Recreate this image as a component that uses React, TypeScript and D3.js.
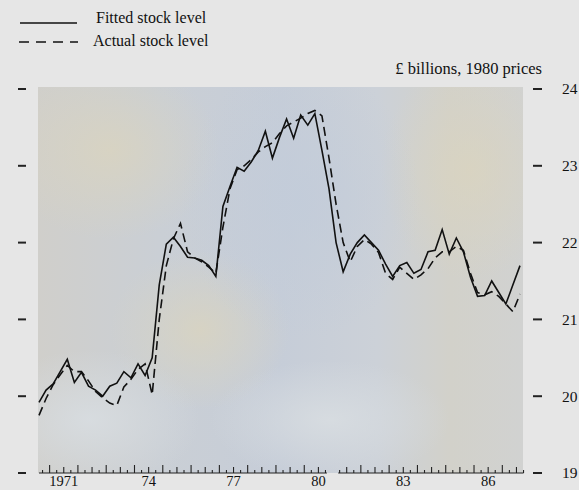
import React from 'react';
import * as d3 from 'd3';

// Quarterly observations, 1970 Q3 .. 1987 Q3 (£ billions, 1980 prices)
const firstQuarter = 1970.625;
const fitted = [
  19.92, 20.08, 20.16, 20.32, 20.48, 20.18, 20.31, 20.13, 20.08, 20.0,
  20.13, 20.17, 20.32, 20.24, 20.42, 20.27, 20.5, 21.45, 21.98, 22.07,
  21.95, 21.81, 21.8, 21.77, 21.7, 21.56, 22.47, 22.73, 22.98, 22.93,
  23.05, 23.2, 23.45, 23.1, 23.37, 23.61, 23.36, 23.66, 23.53, 23.68,
  23.2, 22.7, 22.0, 21.62, 21.85, 22.0, 22.1, 22.0, 21.9, 21.72,
  21.56, 21.7, 21.74, 21.6, 21.65, 21.88, 21.9, 22.17, 21.85, 22.06,
  21.88, 21.55, 21.3, 21.31, 21.5, 21.35, 21.2, 21.45, 21.7,
];
const actual = [
  19.75, 19.97, 20.15, 20.28, 20.4, 20.32, 20.32, 20.2, 20.06, 19.98,
  19.91, 19.88, 20.12, 20.22, 20.35, 20.42, 20.02, 21.0, 21.7, 22.05,
  22.25, 21.88, 21.8, 21.75, 21.68, 21.6, 22.2, 22.7, 22.95, 23.0,
  23.08, 23.18, 23.25, 23.3, 23.42, 23.52, 23.57, 23.62, 23.68, 23.72,
  23.65, 23.1, 22.5, 22.0, 21.75, 21.95, 22.04, 21.98, 21.87, 21.6,
  21.52, 21.68, 21.6, 21.52, 21.58, 21.66, 21.8, 21.88, 21.88, 21.95,
  21.9, 21.6, 21.35, 21.32, 21.36, 21.3, 21.2, 21.1, 21.33,
];
const yTicks = [19, 20, 21, 22, 23, 24];
const yearValues = [1971, 1974, 1977, 1980, 1983, 1986];
const yearLabels = ['1971', '74', '77', '80', '83', '86'];
const axisSegments = [
  [1970.625, 1980.8],
  [1981.2, 1987.75],
];

const FONT = '"Liberation Serif", "Times New Roman", serif';

export default function App() {
  const W = 579;
  const H = 490;
  const x = d3.scaleLinear().domain([1970.625, 1987.625]).range([39, 520]);
  const y = d3.scaleLinear().domain([19, 24]).range([473, 89]);
  const tq = (i: number) => firstQuarter + 0.25 * i;
  const line = d3
    .line<number>()
    .x((_, i) => x(tq(i)))
    .y((d) => y(d));

  const plotLeft = 38;
  const plotRight = 523;
  const plotTop = 87;
  const plotBottom = 473;

  const ticks: { t: number; len: number }[] = [];
  for (let k = 0; k <= 70; k++) {
    const t = 1970.75 + 0.25 * k;
    if (t > 1987.76) break;
    const inSeg = axisSegments.some(([a, b]) => t >= a - 1e-6 && t <= b + 1e-6);
    if (!inSeg) continue;
    const frac = Math.round((t - Math.floor(t)) * 4);
    const len = frac === 0 ? 8 : frac === 2 ? 6 : 3;
    ticks.push({ t, len });
  }

  return (
    <svg
      width={W}
      height={H}
      style={{ position: 'absolute', left: 0, top: 0, display: 'block' }}
    >
      <defs>
        <linearGradient id="bgH" x1="0" x2="1" y1="0" y2="0">
          <stop offset="0" stopColor="#d0cfcb" />
          <stop offset="0.25" stopColor="#cacfd5" />
          <stop offset="0.5" stopColor="#c6cdd8" />
          <stop offset="0.7" stopColor="#ccd1d8" />
          <stop offset="0.85" stopColor="#d2d1ca" />
          <stop offset="1" stopColor="#d1d2d1" />
        </linearGradient>
        <radialGradient id="warm1" cx="0.5" cy="0.5" r="0.5">
          <stop offset="0" stopColor="#dad4bf" stopOpacity="0.8" />
          <stop offset="1" stopColor="#dad4bf" stopOpacity="0" />
        </radialGradient>
        <radialGradient id="cool1" cx="0.5" cy="0.5" r="0.5">
          <stop offset="0" stopColor="#c2ccda" stopOpacity="0.8" />
          <stop offset="1" stopColor="#c2ccda" stopOpacity="0" />
        </radialGradient>
        <radialGradient id="light1" cx="0.5" cy="0.5" r="0.5">
          <stop offset="0" stopColor="#d8dde1" stopOpacity="0.9" />
          <stop offset="1" stopColor="#d8dde1" stopOpacity="0" />
        </radialGradient>
        <clipPath id="plotClip">
          <rect x={plotLeft} y={plotTop} width={plotRight - plotLeft} height={plotBottom - plotTop} />
        </clipPath>
      </defs>
      <rect x={0} y={0} width={W} height={H} fill="#e6e6e6" />
      <g clipPath="url(#plotClip)">
        <rect x={plotLeft} y={plotTop} width={plotRight - plotLeft} height={plotBottom - plotTop} fill="url(#bgH)" />
        <ellipse cx={110} cy={150} rx={110} ry={90} fill="url(#warm1)" />
        <ellipse cx={200} cy={330} rx={90} ry={80} fill="url(#warm1)" />
        <ellipse cx={470} cy={170} rx={90} ry={110} fill="url(#warm1)" />
        <ellipse cx={300} cy={200} rx={120} ry={140} fill="url(#cool1)" />
        <ellipse cx={90} cy={420} rx={110} ry={70} fill="url(#light1)" />
        <ellipse cx={330} cy={420} rx={120} ry={60} fill="url(#light1)" />
      </g>

      {/* legend */}
      <line x1={20} x2={77} y1={23} y2={23} stroke="#111" strokeWidth={1.4} />
      <text x={96} y={23} fontFamily={FONT} fontSize={16} fill="#111">
        Fitted stock level
      </text>
      <line x1={19} x2={78} y1={42} y2={42} stroke="#111" strokeWidth={1.4} strokeDasharray="10,7" />
      <text x={93} y={46} fontFamily={FONT} fontSize={16} fill="#111">
        Actual stock level
      </text>

      {/* units */}
      <text x={542} y={74} textAnchor="end" fontFamily={FONT} fontSize={16.5} fill="#111">
        £ billions, 1980 prices
      </text>

      {/* y ticks both sides */}
      {yTicks.map((v) => (
        <g key={v}>
          <line x1={18} x2={26} y1={y(v)} y2={y(v)} stroke="#222" strokeWidth={2} />
          <line x1={533} x2={542} y1={y(v)} y2={y(v)} stroke="#222" strokeWidth={2} />
          <text x={562} y={y(v)} dy="0.35em" fontFamily={FONT} fontSize={15.5} fill="#111">
            {v}
          </text>
        </g>
      ))}

      {/* x axis */}
      {axisSegments.map(([a, b], i) => (
        <line key={i} x1={x(a)} x2={x(b)} y1={plotBottom} y2={plotBottom} stroke="#222" strokeWidth={1.2} />
      ))}
      {ticks.map((tk, i) => (
        <line key={i} x1={x(tk.t)} x2={x(tk.t)} y1={plotBottom} y2={plotBottom - tk.len} stroke="#222" strokeWidth={1.1} />
      ))}
      {yearValues.map((yr, i) => (
        <text key={yr} x={x(yr + 0.5)} y={486} textAnchor="middle" fontFamily={FONT} fontSize={14.5} fill="#111">
          {yearLabels[i]}
        </text>
      ))}

      {/* series */}
      <path d={line(actual) || ''} fill="none" stroke="#111" strokeWidth={1.6} strokeDasharray="9,5" />
      <path d={line(fitted) || ''} fill="none" stroke="#111" strokeWidth={1.6} strokeLinejoin="miter" />
    </svg>
  );
}
